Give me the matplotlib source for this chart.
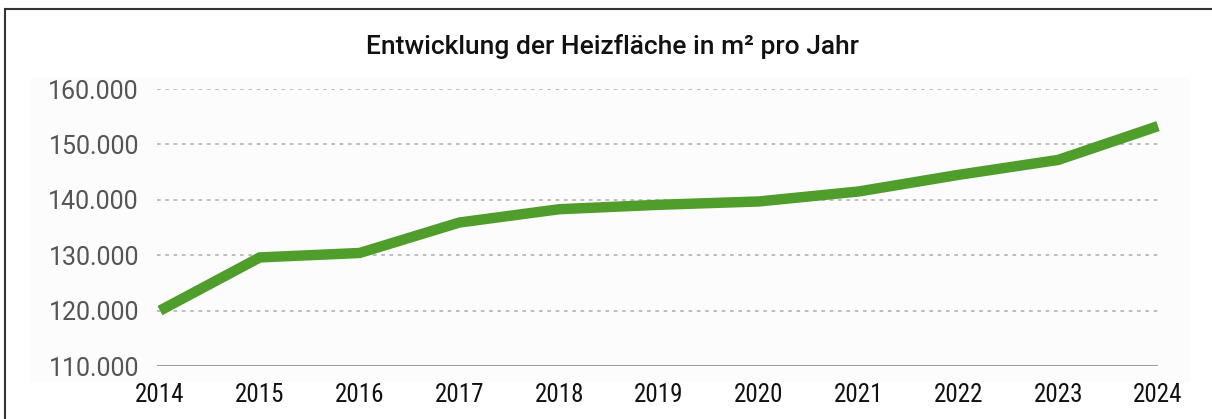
import matplotlib
matplotlib.use("Agg")
import matplotlib.pyplot as plt
from matplotlib import font_manager
from matplotlib.lines import Line2D
from matplotlib.ticker import FuncFormatter

# Heizfläche in m² pro Jahr
years = [2014, 2015, 2016, 2017, 2018, 2019, 2020, 2021, 2022, 2023, 2024]
area = [120000, 129600, 130400, 135900, 138300, 139100, 139700, 141500, 144500, 147200, 153300]
y_ticks = [110000, 120000, 130000, 140000, 150000, 160000]

title = "Entwicklung der Heizfläche in m² pro Jahr"

# narrow font for the year labels, if one is installed
installed = {f.name for f in font_manager.fontManager.ttflist}
narrow = [n for n in ["Roboto Condensed", "Liberation Sans Narrow"] if n in installed]
year_font = narrow + ["Roboto", "DejaVu Sans"]

fig = plt.figure(figsize=(12.12, 4.19), dpi=100)
fig.patch.set_facecolor("white")

ax = fig.add_axes([157 / 1212, 1 - 366 / 419, 1001 / 1212, 277 / 419])
ax.set_facecolor("none")

# faint panel behind the plot
fig.add_artist(plt.Rectangle((30 / 1212, 1 - 382 / 419), 1160 / 1212, 305 / 419,
                             transform=fig.transFigure, facecolor="#fcfcfc",
                             edgecolor="none", zorder=-5))

ax.plot(years, area, color="#4f9d2a", linewidth=7.5, solid_capstyle="butt",
        solid_joinstyle="miter", clip_on=False, zorder=3)

ax.set_xlim(2013.97, 2024)
ax.set_ylim(110000, 160000)
ax.set_xticks(years)
ax.set_yticks(y_ticks)
ax.yaxis.set_major_formatter(FuncFormatter(lambda v, p: f"{int(v):,}".replace(",", ".")))

# dotted grid, solid base line
for v in y_ticks[1:]:
    ax.axhline(v, color="#b8b8b8", linewidth=1.3, linestyle=(0, (2, 2.6)), zorder=1)
ax.axhline(110000, color="#a0a0a0", linewidth=1.5, zorder=2)

for s in ax.spines.values():
    s.set_visible(False)
ax.tick_params(axis="both", length=0)
ax.tick_params(axis="y", pad=13, labelcolor="#555555")
ax.tick_params(axis="x", pad=12, labelcolor="#111111")
for lab in ax.get_yticklabels():
    lab.set_family(["Roboto", "DejaVu Sans"])
    lab.set_fontsize(18)
for lab in ax.get_xticklabels():
    lab.set_family(year_font)
    lab.set_fontsize(18 if narrow else 15.5)

fig.text(0.505, 1 - 46 / 419, title, ha="center", va="center", fontsize=19,
         family=["Roboto", "DejaVu Sans"], fontweight="medium", color="#111111")

# frame lines (left and top)
fig.add_artist(Line2D([5 / 1212, 5 / 1212], [0, 1 - 9 / 419], transform=fig.transFigure,
                      color="#333333", linewidth=1.5))
fig.add_artist(Line2D([5 / 1212, 1], [1 - 9 / 419, 1 - 9 / 419], transform=fig.transFigure,
                      color="#333333", linewidth=1.5))

fig.savefig("out.png", dpi=100)
